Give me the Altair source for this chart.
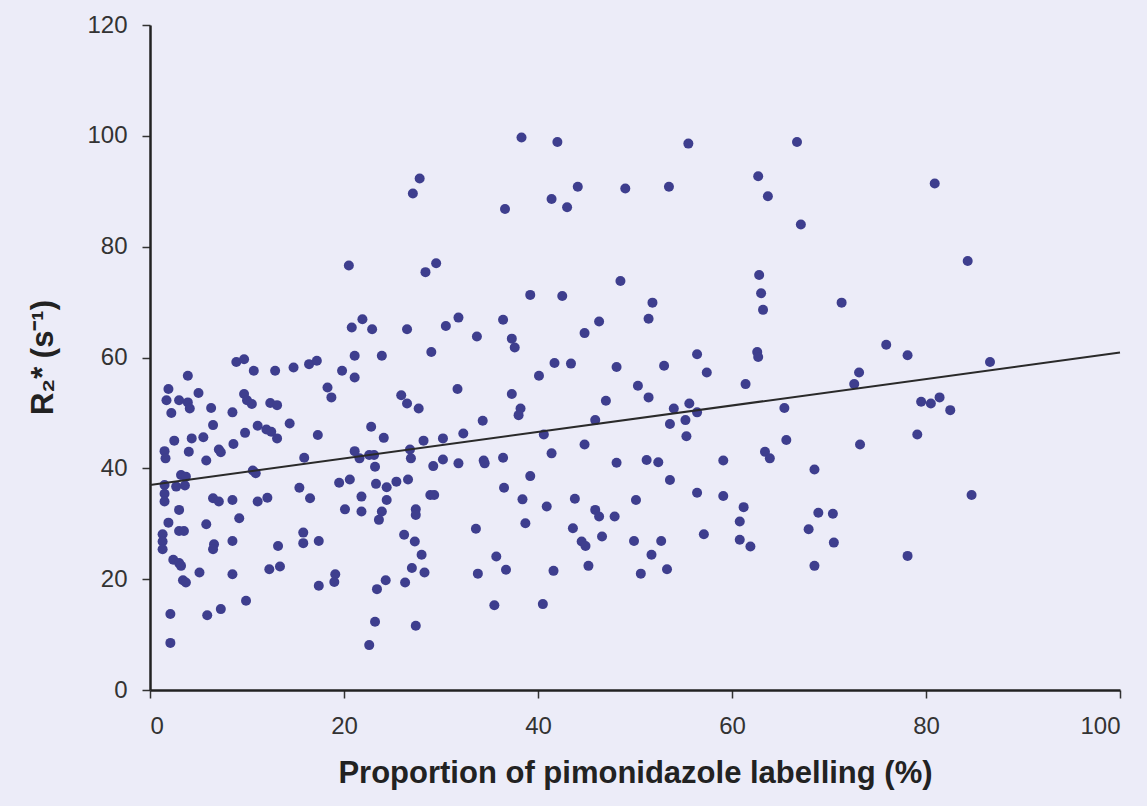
import altair as alt
import pandas as pd

# Proportion of pimonidazole labelling (%)
x_vals = [
    8.9, 9.7, 10.7, 12.9, 14.8, 16.4, 17.2, 19.8, 21.1, 23.9, 21.1, 3.9, 1.9, 1.7, 3.0, 3.9, 4.1, 5.0, 2.2, 6.3,
    8.5, 9.7, 10.0, 10.5, 12.4, 13.1, 18.3, 18.7, 6.5, 2.5, 4.3, 5.5, 4.0, 1.5, 1.6, 5.8, 7.1, 7.3, 8.6, 9.8,
    11.1, 12.0, 12.5, 13.1, 14.4, 17.3, 10.6, 10.9, 15.9, 21.1, 21.6, 22.6, 23.1, 22.8, 24.1, 23.2, 3.2, 3.7, 3.6, 2.7,
    1.5, 1.5, 1.5, 3.0, 6.5, 7.1, 8.5, 9.2, 11.1, 12.1, 15.4, 16.5, 19.5, 20.6, 23.3, 24.4, 21.8, 24.4, 20.1, 21.8,
    23.9, 23.6, 1.9, 3.0, 3.5, 1.3, 1.3, 1.3, 5.8, 6.6, 6.5, 8.5, 2.4, 3.0, 3.2, 3.4, 3.7, 5.1, 8.5, 13.2,
    12.3, 13.4, 15.8, 15.8, 17.4, 9.9, 17.4, 19.1, 19.0, 2.1, 5.9, 7.3, 2.1, 23.4, 24.3, 23.2, 22.6,
    20.5, 20.8, 21.9, 22.9,
    38.3, 42.0, 27.8, 27.1, 44.1, 49.0, 41.4, 43.0, 36.6, 29.5, 28.4, 48.5, 39.2, 42.5, 26.5, 30.5, 31.8, 36.4, 33.7, 37.3,
    37.6, 46.3, 44.8, 29.0, 41.7, 43.4, 48.1, 40.1,
    31.7, 25.9, 26.5, 27.7, 37.3, 38.2, 38.0, 47.0, 34.3, 45.9, 28.2, 30.2, 32.3, 40.6, 44.8, 26.8, 26.9, 29.2, 30.2, 31.8,
    34.4, 34.5, 36.4, 41.4, 48.1, 25.4, 26.6, 28.9, 29.3, 39.2, 36.5, 38.4, 40.9, 43.8, 27.4, 27.4, 38.7, 45.9, 46.3, 47.9,
    33.6, 43.6, 26.2, 27.3, 28.0, 27.0, 28.3, 26.3, 44.5, 44.9, 46.6, 35.7, 36.7, 33.8, 41.6, 45.2, 35.5, 40.5, 27.4,
    55.5, 66.7, 62.7, 63.7, 53.5, 67.1, 62.8, 63.0, 63.2, 71.3, 51.8, 51.4, 56.4, 53.0, 57.4, 62.6, 62.7, 73.1,
    61.4, 72.6, 50.3, 51.4, 54.0, 55.6, 56.4, 53.6, 55.2, 55.3, 65.4, 65.6, 63.4, 63.9, 73.2, 51.2, 52.4, 59.1, 53.6, 68.5,
    56.4, 59.1, 50.1, 61.2, 60.8, 68.9, 70.4, 67.9, 70.5, 57.1, 49.9, 52.7, 60.8, 61.9, 51.7, 50.6, 53.3, 68.5,
    80.9, 84.3, 75.9, 78.1, 86.6,
    79.5, 80.5, 81.4, 82.5, 79.1, 84.7, 78.1,
]

# R2* (s^-1)
y_vals = [
    59.2, 59.7, 57.6, 57.6, 58.2, 58.8, 59.4, 57.6, 60.3, 60.3, 56.4, 56.7, 54.3, 52.3, 52.3, 51.9, 50.8, 53.6, 50.0, 50.9,
    50.1, 53.4, 52.3, 51.6, 51.8, 51.4, 54.6, 52.8, 47.8, 45.0, 45.4, 45.6, 43.0, 43.1, 41.8, 41.4, 43.4, 42.9, 44.4, 46.4,
    47.7, 47.0, 46.6, 45.4, 48.1, 46.0, 39.6, 39.1, 41.9, 43.1, 41.8, 42.4, 42.4, 47.5, 45.5, 40.3, 38.8, 38.5, 36.9, 36.7,
    37.0, 35.4, 34.0, 32.5, 34.6, 34.0, 34.3, 31.0, 34.0, 34.7, 36.5, 34.6, 37.4, 38.0, 37.2, 36.6, 34.9, 34.3, 32.6, 32.2,
    32.2, 30.7, 30.2, 28.7, 28.7, 28.1, 26.8, 25.4, 29.9, 26.3, 25.4, 26.9, 23.5, 22.9, 22.4, 19.8, 19.4, 21.2, 20.9, 26.0,
    21.8, 22.3, 28.4, 26.5, 26.9, 16.1, 18.8, 20.9, 19.5, 13.7, 13.5, 14.6, 8.5, 18.2, 19.8, 12.3, 8.1,
    76.6, 65.4, 66.9, 65.1,
    99.7, 98.9, 92.3, 89.6, 90.8, 90.5, 88.6, 87.1, 86.8, 77.0, 75.4, 73.8, 71.3, 71.1, 65.1, 65.7, 67.2, 66.8, 63.8, 63.4,
    61.8, 66.5, 64.4, 61.0, 59.0, 58.9, 58.3, 56.7,
    54.3, 53.2, 51.7, 50.8, 53.4, 50.8, 49.6, 52.2, 48.6, 48.7, 45.0, 45.4, 46.3, 46.1, 44.3, 43.4, 41.8, 40.4, 41.6, 40.9,
    41.4, 40.9, 41.9, 42.7, 41.0, 37.6, 38.0, 35.2, 35.2, 38.6, 36.5, 34.4, 33.1, 34.5, 32.6, 31.6, 30.1, 32.5, 31.3, 31.3,
    29.1, 29.2, 28.0, 26.8, 24.4, 22.0, 21.2, 19.4, 26.8, 26.0, 27.7, 24.1, 21.7, 21.0, 21.5, 22.4, 15.3, 15.5, 11.6,
    98.6, 98.9, 92.7, 89.1, 90.8, 84.0, 74.9, 71.6, 68.6, 69.9, 69.9, 67.0, 60.6, 58.5, 57.3, 61.0, 60.1, 57.3,
    55.2, 55.2, 54.9, 52.8, 50.8, 51.7, 50.1, 48.0, 48.7, 45.8, 50.9, 45.1, 43.0, 41.8, 44.3, 41.5, 41.1, 41.4, 37.9, 39.8,
    35.6, 35.0, 34.3, 33.0, 30.4, 32.0, 31.8, 29.0, 26.6, 28.1, 26.9, 26.9, 27.1, 25.9, 24.4, 21.0, 21.8, 22.4,
    91.4, 77.4, 62.3, 60.4, 59.2,
    52.0, 51.7, 52.8, 50.5, 46.1, 35.2, 24.2,
]

# Linear trend line end points
fit_x = [0, 100]
fit_y = [37.0, 60.9]

x_ticks = [0, 20, 40, 60, 80, 100]
y_ticks = [0, 20, 40, 60, 80, 100, 120]

pts_df = pd.DataFrame({"x": x_vals, "y": y_vals})
fit_df = pd.DataFrame({"x": fit_x, "y": fit_y})

FONT = "Liberation Sans"

x_enc = alt.X(
    "x:Q",
    scale=alt.Scale(domain=[0, 100], nice=False, zero=True),
    axis=alt.Axis(
        values=x_ticks,
        title="Proportion of pimonidazole labelling (%)",
        titleFont=FONT, titleFontSize=31, titleFontWeight="bold", titleColor="#222222",
        titleY=92, titleBaseline="alphabetic",
        labelFont=FONT, labelFontSize=24, labelColor="#333333", labelPadding=16,
        tickSize=8, tickWidth=1.5, tickColor="#333333",
        domainColor="#222222", domainWidth=2.5, grid=False,
    ),
)
y_enc = alt.Y(
    "y:Q",
    scale=alt.Scale(domain=[0, 120], nice=False),
    axis=alt.Axis(
        values=y_ticks,
        title="R₂* (s⁻¹)",
        titleFont=FONT, titleFontSize=31, titleFontWeight="bold", titleColor="#222222",
        titleX=-98, titleY=332, titleAngle=-90, titleAlign="center", titleBaseline="alphabetic",
        labelFont=FONT, labelFontSize=24, labelColor="#333333", labelPadding=15,
        tickSize=8, tickWidth=1.5, tickColor="#333333",
        domainColor="#222222", domainWidth=2.5, grid=False,
    ),
)

points = alt.Chart(pts_df).mark_circle(size=100, color="#3e3e8e", opacity=1).encode(x=x_enc, y=y_enc)
trend = alt.Chart(fit_df).mark_line(color="#2a2a2a", strokeWidth=2).encode(x="x:Q", y="y:Q")

chart = (
    alt.layer(points, trend)
    .properties(
        width=970,
        height=665,
        autosize=alt.AutoSizeParams(type="none"),
        padding={"left": 150, "top": 25, "right": 27, "bottom": 116},
        background="#ececf8",
    )
    .configure_view(stroke=None)
)

chart.save("out.html", embed_options={"renderer": "svg", "actions": False})
